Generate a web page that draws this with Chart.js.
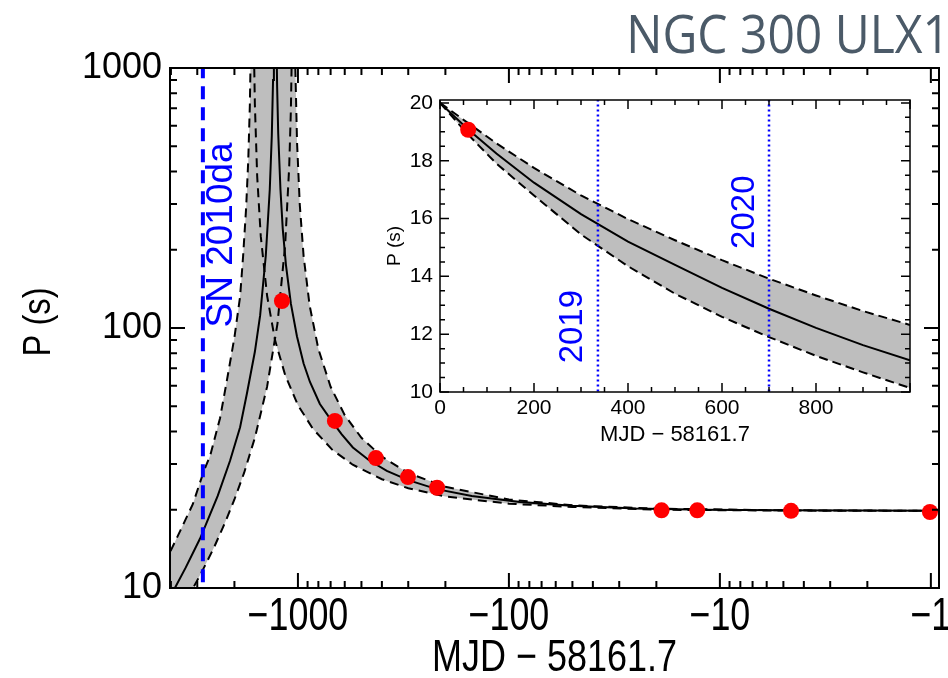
<!DOCTYPE html>
<html lang="en">
<head>
<meta charset="UTF-8">
<title>NGC 300 ULX1 spin period evolution</title>
<script src="https://cdn.jsdelivr.net/npm/chart.js@4.4.1/dist/chart.umd.min.js"></script>
<style>
  html,body{margin:0;padding:0;background:#fff}
  #wrap{position:relative;width:948px;height:678px;overflow:hidden}
  #main{position:absolute;left:0;top:0}
  #inset{position:absolute;left:370px;top:80px}
  #title{position:absolute;right:-2px;top:6px;font:48px/48px "Open Sans",sans-serif;color:#4b5a68;
         transform:scaleY(1.12);transform-origin:top right;white-space:nowrap}
</style>
</head>
<body>
<div id="wrap">
  <canvas id="main" width="948" height="678"></canvas>
  <canvas id="inset" width="578" height="372"></canvas>
  <div id="title">NGC 300 ULX1</div>
</div>
<script>
// ---- main panel: x = |MJD - 58161.7| in days (axis reversed, labelled negative), y = P (s)
const obsDays   = [1191, 668, 427, 301, 219, 18.9, 12.8, 4.6, 1.01];
const obsPeriod = [127, 43.9, 31.6, 26.7, 24.3, 19.9, 19.9, 19.8, 19.6];
const snDays = 2822; // SN 2010da

// best fit, before the period divergence (left branch) and after it (right branch)
const fitLeft  = [[4300, 8.5], [3830, 10.0], [3400, 12.0], [2910, 15.5], [2400, 22.6], [2100, 30.8],
                  [1880, 41.5], [1745, 56], [1600, 81], [1510, 112], [1420, 190], [1360, 340],
                  [1330, 550], [1312, 900], [1300, 1700]];
const fitRight = [[1270, 1700], [1255, 850], [1240, 560], [1210, 340], [1180, 240], [1140, 175],
                  [1080, 124], [1011, 93], [940, 73], [877, 62], [787, 51], [700, 44.5], [620, 39],
                  [549, 34.7], [460, 31], [379, 28.2], [300, 26], [220, 24], [150, 22.6], [89, 21.4],
                  [50, 20.7], [25, 20.2], [12, 20.0], [5, 19.9], [2, 19.85], [0.8, 19.8]];
// error envelope: slow spin-up bound (A) and fast spin-up bound (B)
const boundALeft  = [[5000, 9.7], [4300, 12.3], [4045, 13.7], [3600, 16.7], [3150, 21], [2800, 28],
                     [2600, 32.5], [2340, 45], [2170, 63], [2000, 92], [1880, 132], [1820, 188],
                     [1760, 290], [1720, 440], [1690, 720], [1665, 1500]];
const boundARight = [[1620, 1300], [1600, 725], [1560, 383], [1500, 225], [1400, 133], [1285, 90],
                     [1150, 66], [1000, 50.5], [850, 41], [687, 34], [550, 29.8], [400, 26.2],
                     [300, 24.2], [200, 22.5], [100, 21.1], [50, 20.5], [20, 20.0], [5, 19.85], [0.8, 19.8]];
const boundBLeft  = [[4300, 6.4], [3500, 8.5], [3000, 10.7], [2800, 11.9], [2500, 14.3], [2200, 18.1],
                     [2000, 21.9], [1800, 27.7], [1600, 37.8], [1400, 59.5], [1250, 104], [1150, 208],
                     [1100, 417], [1080, 690], [1065, 1370]];
const boundBRight = [[1038, 1700], [1030, 1040], [1010, 520], [980, 298], [940, 189], [880, 122],
                     [800, 83], [700, 59.4], [600, 46.2], [500, 37.8], [400, 32], [300, 27.7],
                     [200, 24.5], [100, 21.9], [50, 20.8], [20, 20.2], [5, 19.9], [0.8, 19.8]];

const xMajorMain = [1, 10, 100, 1000];
const yMajorMain = [10, 100, 1000];

// ---- inset: x = MJD - 58161.7 (days), y = P (s)
const insetObsDay = [60];
const insetObsPeriod = [19.07];
const insetFit   = [[0, 20.0], [60, 19.08], [120, 18.25], [200, 17.24], [300, 16.15], [400, 15.2],
                    [500, 14.4], [600, 13.6], [700, 12.88], [800, 12.22], [900, 11.62], [1000, 11.1]];
const insetUpper = [[0, 20.0], [60, 19.3], [120, 18.6], [200, 17.75], [300, 16.8], [400, 15.98],
                    [500, 15.25], [600, 14.56], [700, 13.92], [800, 13.34], [900, 12.8], [1000, 12.32]];
const insetLower = [[0, 20.0], [60, 18.9], [120, 17.9], [200, 16.8], [300, 15.45], [400, 14.35],
                    [500, 13.4], [600, 12.6], [700, 11.9], [800, 11.25], [900, 10.68], [1000, 10.14]];
const year2019 = 336, year2020 = 700;
const xMajorInset = [0, 200, 400, 600, 800];
const yMajorInset = [10, 12, 14, 16, 18, 20];

const SANS = '"Liberation Sans", Arial, sans-serif';
const GREY = '#bebebe';

function logTicks(lo, hi) {
  const out = [];
  for (let e = Math.floor(Math.log10(lo)); Math.pow(10, e) <= hi; e++) {
    for (let m = 1; m < 10; m++) {
      const v = m * Math.pow(10, e);
      if (v >= lo && v <= hi) out.push(v);
    }
  }
  return out;
}
function stepTicks(lo, hi, step) {
  const out = [];
  for (let i = 0; lo + i * step <= hi + 1e-9; i++) out.push(lo + i * step);
  return out;
}
const pts = arr => arr.map(([x, y]) => ({x, y}));
const zip = (xs, ys) => xs.map((x, i) => ({x, y: ys[i]}));

const curve = (arr, dash) => ({
  data: pts(arr), borderColor: '#000', borderWidth: 2, borderDash: dash, pointRadius: 0, fill: false, order: 3
});
const band = (a, b) => ({
  data: pts(a.concat(b.slice().reverse())), borderColor: 'rgba(0,0,0,0)', borderWidth: 0,
  backgroundColor: GREY, pointRadius: 0, fill: 'shape', order: 10
});
const vline = (x, y0, y1, width, dash) => ({
  data: [{x, y: y0}, {x, y: y1}], borderColor: '#0000ff', borderWidth: width, borderDash: dash,
  pointRadius: 0, fill: false, order: 1
});
const dots = (xs, ys) => ({
  data: zip(xs, ys), showLine: false, pointRadius: 8, pointBackgroundColor: '#ff0000',
  pointBorderWidth: 0, order: 0
});

// inward tick marks on all four sides plus the frame (IDL style)
const boxTicks = {
  id: 'boxTicks',
  afterDatasetsDraw(chart, args, o) {
    const {ctx, chartArea: a, scales: {x, y}} = chart;
    ctx.save();
    ctx.strokeStyle = '#000';
    ctx.lineWidth = o.tickWidth;
    ctx.beginPath();
    for (const t of x.ticks) {
      const px = x.getPixelForValue(t.value);
      const len = o.majorX(t.value) ? o.major : o.minor;
      ctx.moveTo(px, a.bottom); ctx.lineTo(px, a.bottom - len);
      ctx.moveTo(px, a.top); ctx.lineTo(px, a.top + len);
    }
    for (const t of y.ticks) {
      const py = y.getPixelForValue(t.value);
      const len = o.majorY(t.value) ? o.major : o.minor;
      ctx.moveTo(a.left, py); ctx.lineTo(a.left + len, py);
      ctx.moveTo(a.right, py); ctx.lineTo(a.right - len, py);
    }
    ctx.stroke();
    ctx.lineWidth = o.boxWidth;
    ctx.strokeRect(a.left, a.top, a.right - a.left, a.bottom - a.top);
    ctx.restore();
  }
};

// vertical text next to the marker lines
const vLabels = {
  id: 'vLabels',
  afterDatasetsDraw(chart, args, o) {
    const {ctx, scales: {x, y}} = chart;
    for (const it of o.items) {
      ctx.save();
      ctx.translate(x.getPixelForValue(it.x) + it.dx, y.getPixelForValue(it.y));
      ctx.rotate(-Math.PI / 2);
      ctx.font = it.font;
      ctx.fillStyle = '#0000ff';
      ctx.textAlign = 'center';
      ctx.textBaseline = 'middle';
      ctx.fillText(it.text, 0, 0);
      ctx.restore();
    }
  }
};

// the main panel's x labels and axis titles are set in a condensed face:
// no narrow font is installed, so squeeze Liberation Sans horizontally
function squeezedText(ctx, text, x, y, sx, rotate) {
  ctx.save();
  ctx.translate(x, y);
  if (rotate) ctx.rotate(-Math.PI / 2);
  ctx.scale(sx, 1);
  ctx.fillText(text, 0, 0);
  ctx.restore();
}
const narrowLabels = {
  id: 'narrowLabels',
  afterDraw(chart, args, o) {
    const {ctx, chartArea: a, scales: {x}} = chart;
    ctx.save();
    ctx.fillStyle = '#000';
    ctx.textAlign = 'center';
    ctx.textBaseline = 'alphabetic';
    ctx.font = '46px ' + SANS;
    for (const v of xMajorMain) squeezedText(ctx, '\u2212' + v, x.getPixelForValue(v), o.tickBaseline, 0.78);
    ctx.font = '45px ' + SANS;
    squeezedText(ctx, 'MJD \u2212 58161.7', (a.left + a.right) / 2, o.titleBaseline, 0.8);
    ctx.font = '39px ' + SANS;
    ctx.textBaseline = 'middle';
    squeezedText(ctx, 'P (s)', o.yTitleX, (a.top + a.bottom) / 2 - 6, 0.84, true);
    ctx.restore();
  }
};

const noAxisChrome = {grid: {display: false, drawTicks: false}, border: {display: false}};

new Chart(document.getElementById('main'), {
  type: 'line',
  data: {
    datasets: [
      dots(obsDays, obsPeriod),
      vline(snDays, 5, 2000, 4, [13, 8]),
      curve(fitLeft, []), curve(fitRight, []),
      curve(boundALeft, [9, 6]), curve(boundARight, [9, 6]),
      curve(boundBLeft, [9, 6]), curve(boundBRight, [9, 6]),
      band(boundALeft, boundBLeft), band(boundARight, boundBRight)
    ]
  },
  options: {
    responsive: false, animation: false, events: [], devicePixelRatio: 1,
    layout: {padding: {left: 0, right: 9, top: 68, bottom: 0}},
    plugins: {
      legend: {display: false}, tooltip: {enabled: false},
      boxTicks: {major: 15, minor: 7, tickWidth: 2, boxWidth: 2,
                 majorX: v => xMajorMain.includes(v), majorY: v => yMajorMain.includes(v)},
      vLabels: {items: [{text: 'SN 2010da', x: snDays, dx: 19, y: 228, font: '37px ' + SANS}]},
      narrowLabels: {tickBaseline: 630, titleBaseline: 671, yTitleX: 39}
    },
    scales: {
      x: {
        type: 'logarithmic', reverse: true, min: 0.915, max: 4040, ...noAxisChrome,
        afterBuildTicks: s => { s.ticks = logTicks(1, 4040).map(v => ({value: v})); },
        afterFit: s => { s.height = 90; s.paddingLeft = 0; s.paddingRight = 0; },
        ticks: {autoSkip: false, maxRotation: 0, minRotation: 0, callback: () => ''}
      },
      y: {
        type: 'logarithmic', min: 10, max: 1000, ...noAxisChrome,
        afterBuildTicks: s => { s.ticks = logTicks(10, 1000).map(v => ({value: v})); },
        afterFit: s => { s.width = 170; s.paddingTop = 0; s.paddingBottom = 0; },
        ticks: {autoSkip: false, padding: 8, color: '#000', font: {family: SANS, size: 36},
                callback: v => yMajorMain.includes(v) ? String(v) : ''}
      }
    }
  },
  plugins: [boxTicks, vLabels, narrowLabels]
});

new Chart(document.getElementById('inset'), {
  type: 'line',
  data: {
    datasets: [
      dots(insetObsDay, insetObsPeriod),
      vline(year2019, 5, 25, 2.5, [2, 3]),
      vline(year2020, 5, 25, 2.5, [2, 3]),
      curve(insetFit, []),
      curve(insetUpper, [9, 5]), curve(insetLower, [9, 5]),
      band(insetUpper, insetLower)
    ]
  },
  options: {
    responsive: false, animation: false, events: [], devicePixelRatio: 1,
    layout: {padding: {left: 0, right: 38, top: 20, bottom: 0}},
    plugins: {
      legend: {display: false}, tooltip: {enabled: false},
      boxTicks: {major: 9, minor: 5, tickWidth: 1.5, boxWidth: 1.5,
                 majorX: v => v % 200 === 0, majorY: v => v % 2 === 0},
      vLabels: {items: [
        {text: '2019', x: year2019, dx: -25, y: 12.26, font: '33px ' + SANS},
        {text: '2020', x: year2020, dx: -24, y: 16.22, font: '33px ' + SANS}
      ]}
    },
    scales: {
      x: {
        type: 'linear', min: 0, max: 1000, ...noAxisChrome,
        afterBuildTicks: s => { s.ticks = stepTicks(0, 1000, 50).map(v => ({value: v})); },
        afterFit: s => { s.height = 60; s.paddingLeft = 0; s.paddingRight = 0; },
        ticks: {autoSkip: false, maxRotation: 0, minRotation: 0, padding: 6, color: '#000',
                font: {family: SANS, size: 21, lineHeight: 1},
                callback: v => xMajorInset.includes(v) ? String(v) : ''},
        title: {display: true, text: 'MJD \u2212 58161.7', color: '#000',
                font: {family: SANS, size: 22, lineHeight: 1}, padding: {top: 0, bottom: 6}}
      },
      y: {
        type: 'linear', min: 10, max: 20.1, ...noAxisChrome,
        afterBuildTicks: s => { s.ticks = stepTicks(10, 20, 0.5).map(v => ({value: v})); },
        afterFit: s => { s.width = 70; s.paddingTop = 0; s.paddingBottom = 0; },
        ticks: {autoSkip: false, padding: 7, color: '#000', font: {family: SANS, size: 21},
                callback: v => yMajorInset.includes(v) ? String(v) : ''},
        title: {display: true, text: 'P (s)', color: '#000',
                font: {family: SANS, size: 19, lineHeight: 1}, padding: {top: 15, bottom: 0}}
      }
    }
  },
  plugins: [boxTicks, vLabels]
});
</script>
</body>
</html>
